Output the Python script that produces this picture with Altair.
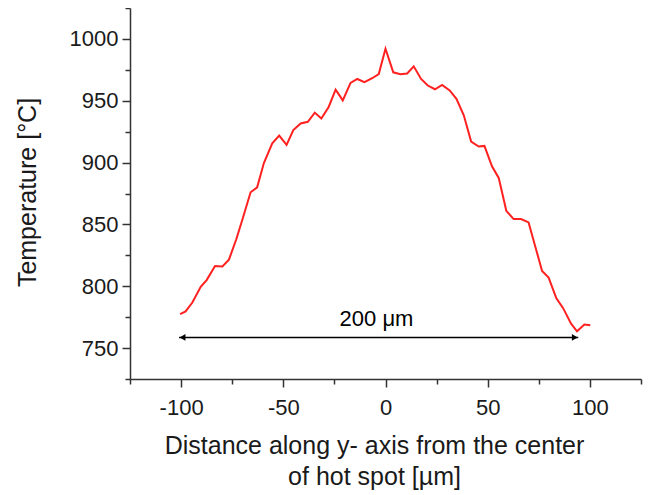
import altair as alt
import pandas as pd

# Temperature profile
dist = [-100.5, -97.8, -94.5, -90.4, -87.5, -83.4, -79.8, -76.6, -73.0, -70.0,
        -66.0, -62.8, -59.5, -55.4, -52.0, -48.4, -45.1, -41.5, -38.0, -34.6,
        -31.4, -27.8, -24.4, -20.9, -17.1, -13.8, -10.3, -6.5, -3.3, 0.0,
        3.8, 7.3, 10.6, 13.8, 17.4, 20.7, 24.2, 27.7, 31.4, 34.7,
        38.3, 41.9, 45.6, 48.4, 52.1, 55.4, 59.1, 62.7, 66.3, 70.0,
        73.3, 76.6, 79.8, 83.6, 86.9, 90.8, 93.7, 97.3, 100.2]
temp = [777.5, 779.6, 786.8, 799.6, 805.0, 816.4, 816.0, 821.5, 838.0, 854.0,
        876.0, 880.0, 899.6, 915.6, 921.8, 914.3, 926.3, 931.6, 933.0, 940.4,
        935.6, 945.0, 959.0, 950.3, 964.4, 967.6, 965.0, 968.2, 971.6, 992.0,
        973.0, 971.4, 972.0, 977.8, 967.6, 962.3, 959.3, 962.8, 958.3, 951.6,
        938.3, 917.0, 913.0, 913.5, 897.0, 887.6, 861.0, 854.3, 854.3, 851.6,
        832.0, 812.4, 807.0, 790.3, 782.3, 769.8, 763.6, 769.0, 768.4]

# Axis ticks
x_ticks = [-125, -100, -75, -50, -25, 0, 25, 50, 75, 100, 125]
y_ticks = [725, 750, 775, 800, 825, 850, 875, 900, 925, 950, 975, 1000, 1025]

# Double arrow annotation
arrow_start = -101.0
arrow_end = 94.3
arrow_temp = 758.6
head_x = [-99.3, 92.6]
head_shape = ["triangle-left", "triangle-right"]
label_x = -4.4
label_temp = 767.5
label_text = "200 μm"

FONT = "Liberation Sans"
TXT = "#1a1a1a"

df = pd.DataFrame({"x": dist, "y": temp})
arrow_df = pd.DataFrame({"x": [arrow_start], "x2": [arrow_end], "y": [arrow_temp]})
heads_df = pd.DataFrame({"x": head_x, "y": [arrow_temp] * 2, "shape": head_shape})
label_df = pd.DataFrame({"x": [label_x], "y": [label_temp], "text": [label_text]})

xscale = alt.Scale(domain=[-125, 125], nice=False, zero=False)
yscale = alt.Scale(domain=[725, 1025], nice=False, zero=False)

major_test = "datum.value % 50 === 0"
tick_len = {"condition": {"test": major_test, "value": 8}, "value": 5}

x_axis = alt.Axis(
    values=x_ticks,
    labelExpr="datum.value % 50 === 0 ? '' + datum.value : ''",
    tickSize=tick_len,
    title=["Distance along y- axis from the center", "of hot spot [µm]"],
    titleX=244, titleY=74, titleAlign="center", titleBaseline="alphabetic",
    titleLineHeight=31, titleFont=FONT, titleFontSize=25, titleFontWeight="normal",
    titleColor=TXT, labelFont=FONT, labelFontSize=22, labelColor=TXT,
    labelPadding=10, labelOverlap=False, labelFlush=False, grid=False,
    domainColor="#333333", tickColor="#333333", domainWidth=1.5, tickWidth=1.5,
)
y_axis = alt.Axis(
    values=y_ticks,
    labelExpr="datum.value % 50 === 0 ? '' + datum.value : ''",
    tickSize=tick_len,
    title="Temperature [°C]",
    titleX=-95, titleY=184, titleAngle=270, titleAlign="center", titleBaseline="alphabetic",
    titleFont=FONT, titleFontSize=25, titleFontWeight="normal", titleColor=TXT,
    labelFont=FONT, labelFontSize=22, labelColor=TXT, labelPadding=4,
    labelOverlap=False, labelFlush=False, grid=False,
    domainColor="#333333", tickColor="#333333", domainWidth=1.5, tickWidth=1.5,
)

line = alt.Chart(df).mark_line(color="#ff2020", strokeWidth=2)

rule = alt.Chart(arrow_df).mark_rule(color="black", strokeWidth=1.5).encode(x2="x2:Q")

heads = alt.Chart(heads_df).mark_point(filled=True, color="black", opacity=1, size=45).encode(
    shape=alt.Shape("shape:N", scale=None),
)

label = alt.Chart(label_df).mark_text(
    font=FONT, fontSize=22, color="black", baseline="alphabetic", align="center"
).encode(text="text:N")

chart = alt.layer(line, rule, heads, label).encode(
    x=alt.X("x:Q", scale=xscale, axis=x_axis),
    y=alt.Y("y:Q", scale=yscale, axis=y_axis),
).properties(
    width=511, height=371,
    background="white",
    autosize=alt.AutoSizeParams(type="none"),
    padding={"left": 122, "top": 0, "right": 10, "bottom": 114},
).configure_view(stroke=None)

chart.save("out.html", embed_options={"renderer": "svg", "actions": False})
